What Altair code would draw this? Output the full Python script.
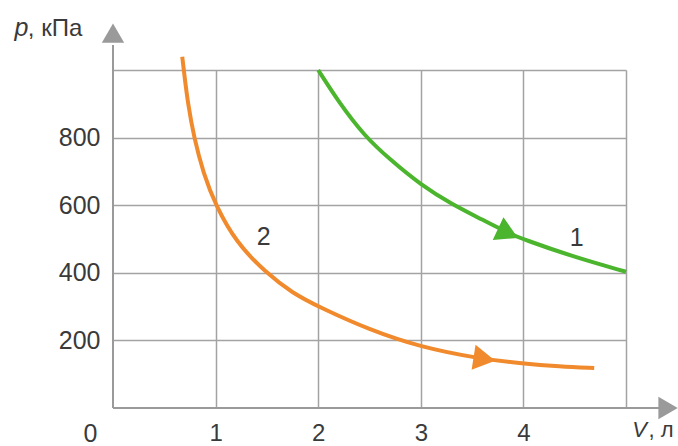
import altair as alt
import pandas as pd

# Isotherm 1 (green): volume, litres / pressure, kPa
green_v = [2.0, 2.2, 2.45, 2.7, 3.0, 3.3, 3.6, 3.85, 4.0, 4.5, 5.0]
green_p = [1000, 905, 805, 735, 660, 603, 557, 518, 499, 446, 403]

# Isotherm 2 (orange)
orange_v = [0.675, 0.69, 0.73, 0.79, 0.88, 1.0, 1.2, 1.49, 1.75, 2.0, 2.5, 3.0, 3.55, 4.0, 4.35, 4.69]
orange_p = [1039, 1000, 900, 800, 695, 600, 490, 400, 340, 300, 231, 180, 147, 131, 123, 118]

# Direction arrowheads on the curves
arrow_v = [3.85, 3.62]
arrow_p = [517, 145]
arrow_angle = [25, 9]
arrow_curve = ["1", "2"]

# Curve numbers
label_text = ["1", "2"]
label_v = [4.52, 1.47]
label_p = [503, 505]

x_ticks = [1, 2, 3, 4, 5]
y_ticks = [200, 400, 600, 800, 1000]

GREEN = "#4cb52e"
ORANGE = "#f08a2c"
GRID = "#a3a3a3"
AXIS = "#9a9a9a"
TEXT = "#3a3a3a"
FONT = "Liberation Sans"

x_scale = alt.Scale(domain=[0, 5], nice=False, zero=False)
y_scale = alt.Scale(domain=[0, 1000], nice=False, zero=False)
color_scale = alt.Scale(domain=["1", "2"], range=[GREEN, ORANGE])

x_axis = alt.Axis(
    values=x_ticks, labelExpr="datum.value == 5 ? '' : datum.label",
    title=None, grid=True, gridColor=GRID, gridWidth=1.5,
    domain=False, ticks=False, labelFontSize=24, labelColor=TEXT,
    labelFont=FONT, labelPadding=13, labelFlush=False,
)
y_axis = alt.Axis(
    values=y_ticks, labelExpr="datum.value == 1000 ? '' : datum.label",
    title=None, grid=True, gridColor=GRID, gridWidth=1.5,
    domain=False, ticks=False, labelFontSize=25, labelColor=TEXT,
    labelFont=FONT, labelPadding=13, labelBaseline="middle", labelFlush=False,
)


def xy(xf="V", yf="p"):
    return dict(
        x=alt.X(f"{xf}:Q", scale=x_scale, axis=x_axis),
        y=alt.Y(f"{yf}:Q", scale=y_scale, axis=y_axis),
    )


curve_df = pd.concat([
    pd.DataFrame({"V": green_v, "p": green_p, "curve": "1"}),
    pd.DataFrame({"V": orange_v, "p": orange_p, "curve": "2"}),
])

curves = alt.Chart(curve_df).mark_line(strokeWidth=4, interpolate="basis", clip=False).encode(
    **xy(),
    color=alt.Color("curve:N", scale=color_scale, legend=None),
)

arrows = alt.Chart(pd.DataFrame({
    "V": arrow_v, "p": arrow_p, "ang": arrow_angle, "curve": arrow_curve,
})).mark_point(shape="triangle-right", filled=True, size=640, opacity=1, strokeWidth=0).encode(
    **xy(),
    angle=alt.Angle("ang:Q", scale=None),
    color=alt.Color("curve:N", scale=color_scale, legend=None),
)

# Coordinate axes with arrowheads
axis_lines = alt.Chart(pd.DataFrame({
    "x0": [0, 0], "x1": [0, 5.33], "y0": [0, 0], "y1": [1074, 0],
})).mark_rule(color=AXIS, strokeWidth=2).encode(
    **xy("x0", "y0"), x2="x1:Q", y2="y1:Q",
)

axis_heads = alt.Chart(pd.DataFrame({
    "V": [0, 5.41], "p": [1109, 0], "shape": ["triangle-up", "triangle-right"],
})).mark_point(filled=True, size=500, opacity=1, color=AXIS, strokeWidth=0).encode(
    **xy(),
    shape=alt.Shape("shape:N", scale=None),
)

curve_labels = alt.Chart(pd.DataFrame({
    "t": label_text + ["0"], "V": label_v + [-0.22], "p": label_p + [-78],
})).mark_text(fontSize=25, font=FONT, color=TEXT, baseline="middle", align="center").encode(
    **xy(),
    text="t:N",
)

# Axis names: italic symbol followed by the unit
name_sym = alt.Chart(pd.DataFrame({
    "t": ["p", "V"], "V": [-0.96, 5.06], "p": [1100, -86], "fs": [25, 22],
})).mark_text(font=FONT, fontStyle="italic", color=TEXT, align="left", baseline="alphabetic").encode(
    **xy(),
    size=alt.Size("fs:Q", scale=None),
    text="t:N",
)
name_unit = alt.Chart(pd.DataFrame({
    "t": [", кПа", ", л"], "V": [-0.83, 5.22], "p": [1100, -86], "fs": [24, 22],
})).mark_text(font=FONT, color=TEXT, align="left", baseline="alphabetic").encode(
    **xy(),
    size=alt.Size("fs:Q", scale=None),
    text="t:N",
)

chart = alt.layer(
    curves, axis_lines, axis_heads, arrows, curve_labels, name_sym, name_unit
).properties(
    width=513, height=338,
    autosize=alt.AutoSizeParams(type="none"),
    padding={"left": 113, "top": 70, "right": 52, "bottom": 38},
    background="white",
).configure_view(strokeOpacity=0)

chart.save("out.html", embed_options={"renderer": "svg", "actions": False})
